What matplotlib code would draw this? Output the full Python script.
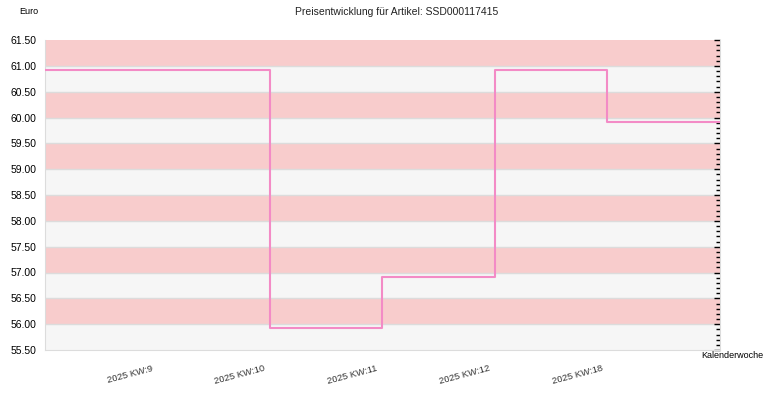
import matplotlib
matplotlib.use("Agg")
from matplotlib import pyplot as plt
from matplotlib.ticker import MultipleLocator
from matplotlib.transforms import ScaledTranslation
import numpy as np

plt.rcParams['font.family'] = ['Liberation Sans', 'DejaVu Sans']

# price per calendar week
weeks = ["2025 KW:9", "2025 KW:10", "2025 KW:11", "2025 KW:12", "2025 KW:18"]
prices = [60.92, 55.92, 56.92, 60.92, 59.92]

Y_MIN = 55.5
Y_MAX = 61.5

fig = plt.figure(figsize=(7.7, 4), dpi=100)
ax = fig.add_axes([0.0584, 0.125, 0.8766, 0.775])

# alternating background bands
bandEdges = np.arange(Y_MIN, Y_MAX, 0.5)
for i, lo in enumerate(bandEdges):
    color = "#f6f6f6" if i % 2 == 0 else "#f8cccc"
    ax.axhspan(lo, lo + 0.5, color=color, lw=0, zorder=0)
for lo in bandEdges[1:]:
    ax.axhline(lo, color="#dcdcdc", lw=1, zorder=1)

# step line: each week's price holds until the next week, first one starts at the left edge
xPos = np.arange(1, len(weeks) + 1)
xLine = np.concatenate([[0], xPos, [len(weeks) + 1]])
yLine = np.concatenate([[prices[0]], prices, [prices[-1]]])
ax.plot(xLine, yLine, drawstyle="steps-post", color="#f38bc6", lw=1.5, zorder=3)

ax.set_xlim(0, len(weeks) + 1)
ax.set_ylim(Y_MIN, Y_MAX)

ax.set_xticks(xPos)
ax.set_xticklabels(weeks, rotation=15, ha="right", fontsize=6.8, color="#333333")
ax.tick_params(axis="x", length=0, pad=10)
shift = ScaledTranslation(-4 / 100, 0, fig.dpi_scale_trans)
for lbl in ax.get_xticklabels():
    lbl.set_transform(lbl.get_transform() + shift)

ax.yaxis.set_major_locator(MultipleLocator(0.5))
ax.yaxis.set_minor_locator(MultipleLocator(0.1))
ax.yaxis.set_major_formatter(matplotlib.ticker.FormatStrFormatter("%.2f"))
ax.tick_params(axis="y", which="both", left=False, right=True, direction="in",
               labelsize=7.5, colors="black", pad=6)
ax.tick_params(axis="y", which="major", length=4.5, width=1)
ax.tick_params(axis="y", which="minor", length=3, width=1)

ax.spines["top"].set_visible(False)
for side in ["left", "bottom", "right"]:
    ax.spines[side].set_color("#dcdcdc")

fig.text(0.515, 0.97, "Preisentwicklung für Artikel: SSD000117415", ha="center", va="center",
         fontsize=7.5, color="#222222")
fig.text(0.038, 0.97, "Euro", ha="center", va="center", fontsize=6.5)
fig.text(0.991, 0.112, "Kalenderwoche", ha="right", va="center", fontsize=6.5)

fig.savefig("out.png", dpi=100)
